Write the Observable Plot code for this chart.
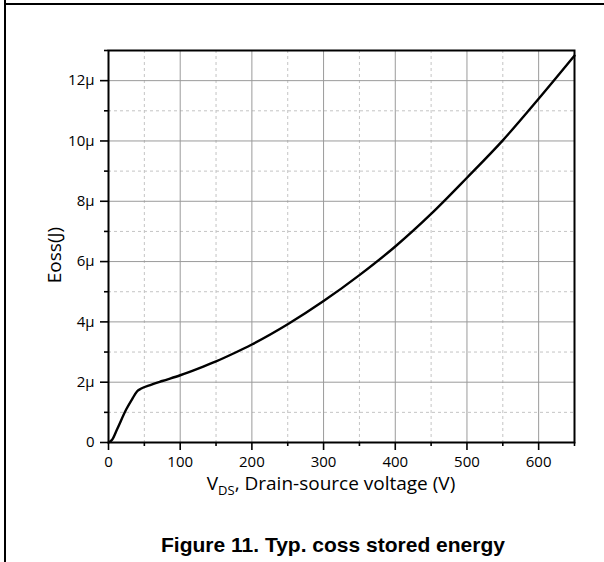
<!DOCTYPE html>
<html>
<head>
<meta charset="utf-8">
<script src="https://cdn.jsdelivr.net/npm/d3@7"></script>
<script src="https://cdn.jsdelivr.net/npm/@observablehq/plot@0.6"></script>
<style>
  body { margin: 0; background: #fff; }
  #wrap { position: relative; width: 604px; height: 562px; overflow: hidden; background: #fff; }
  #wrap > svg { position: absolute; left: 0; top: 0; }
  .vline { position: absolute; left: 4px; top: 0; width: 2px; height: 562px; background: #000; }
  .hline { position: absolute; left: 4px; top: 3px; width: 600px; height: 2px; background: #000; }
</style>
</head>
<body>
<div id="wrap">
  <div class="vline"></div>
  <div class="hline"></div>
</div>
<script>
// Drain-source voltage (V)
const voltage = [0, 5, 12, 25, 33, 40, 45, 60, 75, 100, 125, 150, 175, 200, 250, 300, 350, 400, 450, 500, 550, 600, 650];
// Stored energy Eoss (µJ)
const energy  = [0, 0.09, 0.44, 1.11, 1.44, 1.70, 1.78, 1.92, 2.04, 2.23, 2.45, 2.69, 2.96, 3.25, 3.92, 4.69, 5.55, 6.5, 7.58, 8.78, 10.02, 11.4, 12.83];

const xMajor = [0, 100, 200, 300, 400, 500, 600];
const xMinor = [50, 150, 250, 350, 450, 550, 650];
const yMajor = [0, 2, 4, 6, 8, 10, 12];
const yMinor = [1, 3, 5, 7, 9, 11, 13];

const data = voltage.map((v, i) => ({v, e: energy[i]}));
const fmtY = d => d === 0 ? "0" : d + "\u03bc";

const chart = Plot.plot({
  width: 604,
  height: 500,
  marginLeft: 108,
  marginRight: 30,
  marginTop: 50,
  marginBottom: 58,
  style: { fontFamily: "'Open Sans', sans-serif", fontSize: "15px", color: "#000", background: "transparent" },
  x: { domain: [0, 650] },
  y: { domain: [0, 13] },
  marks: [
    Plot.gridX(xMinor, { stroke: "#c4c4c4", strokeOpacity: 1, strokeDasharray: "3,3" }),
    Plot.gridY(yMinor, { stroke: "#c4c4c4", strokeOpacity: 1, strokeDasharray: "3,3" }),
    Plot.gridX(xMajor, { stroke: "#9a9a9a", strokeOpacity: 1 }),
    Plot.gridY(yMajor, { stroke: "#9a9a9a", strokeOpacity: 1 }),
    Plot.line(data, { x: "v", y: "e", stroke: "#000", strokeWidth: 2.4, curve: "monotone-x" }),
    Plot.axisX(xMajor, { tickSize: 8, tickPadding: 6, strokeWidth: 1.6, label: null, tickFormat: d => String(d) }),
    Plot.axisX(xMinor, { tickSize: 4, strokeWidth: 1.6, label: null, tickFormat: () => "" }),
    Plot.axisY(yMajor, { tickSize: 8, tickPadding: 6, strokeWidth: 1.6, label: null, tickFormat: fmtY }),
    Plot.axisY(yMinor, { tickSize: 4, strokeWidth: 1.6, label: null, tickFormat: () => "" }),
    Plot.frame({ stroke: "#000", strokeWidth: 2 })
  ]
});
document.getElementById("wrap").appendChild(chart);

// Overlay text: axis titles and figure caption
const ov = d3.select("#wrap").append("svg")
  .attr("width", 604).attr("height", 562)
  .style("pointer-events", "none");

ov.append("text")
  .attr("transform", "translate(61,255) rotate(-90)")
  .attr("text-anchor", "middle")
  .attr("font-family", "'Open Sans', sans-serif")
  .attr("font-size", 19)
  .text("Eoss(J)");

const xl = ov.append("text")
  .attr("x", 331).attr("y", 490)
  .attr("text-anchor", "middle")
  .attr("font-family", "'Open Sans', sans-serif")
  .attr("font-size", 19);
xl.append("tspan").text("V");
xl.append("tspan").attr("font-size", 13).attr("dy", 5).text("DS");
xl.append("tspan").attr("dy", -5).text(", Drain-source voltage (V)");

ov.append("text")
  .attr("x", 333).attr("y", 552)
  .attr("text-anchor", "middle")
  .attr("font-family", "'Liberation Sans', Arial, sans-serif")
  .attr("font-weight", "bold")
  .attr("font-size", 21)
  .text("Figure 11. Typ. coss stored energy");
</script>
</body>
</html>
